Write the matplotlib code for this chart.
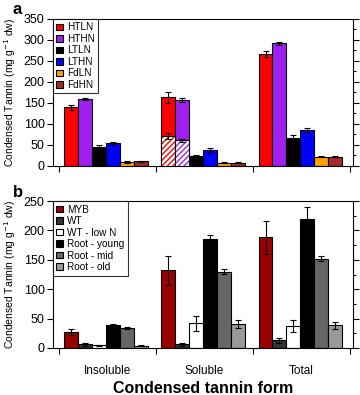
import numpy as np
import matplotlib.pyplot as plt
from matplotlib.ticker import MultipleLocator

# categories
forms = ["Insoluble", "Soluble", "Total"]

# panel a
a_names = ["HTLN", "HTHN", "LTLN", "LTHN", "FdLN", "FdHN"]
a_colors = ["#ff0000", "#a020f0", "#000000", "#0000ff", "#ffa500", "#a52a2a"]
a_vals = [
    [140, 163, 266],
    [159, 157, 292],
    [44, 23, 67],
    [54, 37, 86],
    [10, 8, 22],
    [11, 8, 22],
]
a_errs = [
    [6, 12, 7],
    [3, 5, 4],
    [5, 4, 7],
    [4, 6, 5],
    [2, 1, 1],
    [1, 1, 1],
]
# hatched part of soluble (HTLN, HTHN)
a_hatch_vals = [72, 61]
a_hatch_errs = [7, 3]

# panel b
b_names = ["MYB", "WT", "WT - low N", "Root - young", "Root - mid", "Root - old"]
b_colors = ["#990000", "#333333", "#ffffff", "#000000", "#666666", "#999999"]
b_vals = [
    [27, 132, 188],
    [6, 6, 13],
    [4.5, 42, 38],
    [38.5, 186, 220],
    [34, 130, 152],
    [4, 41, 39],
]
b_errs = [
    [5, 25, 28],
    [2, 2, 4],
    [1, 13, 10],
    [1.5, 7, 20],
    [2, 4, 4],
    [1, 7, 6],
]

plt.rcParams['font.family'] = ['Liberation Sans', 'DejaVu Sans']
plt.rcParams['hatch.linewidth'] = 1.0

fig = plt.figure(figsize=(3.6, 3.95), dpi=100)
ax_a = fig.add_axes([0.147, 0.580, 0.834, 0.372])
ax_b = fig.add_axes([0.147, 0.119, 0.834, 0.372])

width = 0.143
x = np.arange(len(forms))
offsets = (np.arange(6) - 2.5) * width + 0.485


def draw(ax, names, colors, vals, errs):
    for i in range(len(names)):
        ax.bar(x + offsets[i], vals[i], width, color=colors[i],
               edgecolor="black", linewidth=0.8, label=names[i], zorder=2)
        ax.errorbar(x + offsets[i], vals[i], yerr=errs[i], fmt="none",
                    ecolor="black", elinewidth=0.8, capsize=2, capthick=0.8, zorder=4)


def style(ax, top):
    ax.set_xlim(-0.062, 3.03)
    ax.set_ylim(0, top)
    ax.yaxis.set_major_locator(MultipleLocator(50))
    ax.yaxis.set_minor_locator(MultipleLocator(25))
    ax.set_xticks([0, 1, 2, 3])
    ax.set_xticklabels([])
    ax.tick_params(axis="x", which="major", direction="out", length=4, width=0.8)
    ax.tick_params(axis="y", which="both", direction="out", right=True,
                   labelsize=9, width=0.8)
    ax.tick_params(axis="y", which="minor", left=False, length=2)
    ax.tick_params(axis="y", which="major", length=4, pad=2)
    ax.set_ylabel("Condensed Tannin (mg g$^{-1}$ dw)", fontsize=7.5, labelpad=4)
    for s in ax.spines.values():
        s.set_linewidth(0.8)


draw(ax_a, a_names, a_colors, a_vals, a_errs)
# hatched soluble fraction
for j in range(2):
    xi = x[1] + offsets[j]
    ax_a.bar(xi, a_hatch_vals[j], width, color="white", edgecolor=a_colors[j],
             hatch="//////", linewidth=0, zorder=3)
    ax_a.bar(xi, a_hatch_vals[j], width, fill=False, edgecolor="black",
             linewidth=0.8, zorder=3)
    ax_a.errorbar(xi, a_hatch_vals[j], yerr=a_hatch_errs[j], fmt="none",
                  ecolor="black", elinewidth=0.8, capsize=2, capthick=0.8, zorder=4)
style(ax_a, 350)

draw(ax_b, b_names, b_colors, b_vals, b_errs)
style(ax_b, 250)
ax_b.set_xticks([0.5, 1.5, 2.5], minor=True)
ax_b.set_xticklabels(forms, minor=True, fontsize=8.5)
ax_b.tick_params(axis="x", which="minor", length=0, pad=12)
ax_b.set_xlabel("Condensed tannin form", fontsize=11.5, fontweight="bold", labelpad=3)

for ax in (ax_a, ax_b):
    leg = ax.legend(loc="upper left", fontsize=7.2, frameon=True, fancybox=False,
                    borderaxespad=0, handlelength=0.65, handleheight=0.65,
                    handletextpad=0.4, labelspacing=0.15, borderpad=0.35)
    leg.get_frame().set_edgecolor("black")
    leg.get_frame().set_linewidth(0.8)
    leg.set_zorder(5)

fig.text(0.035, 0.975, "a", fontsize=12, fontweight="bold", va="center")
fig.text(0.035, 0.513, "b", fontsize=12, fontweight="bold", va="center")

plt.savefig("out.png", dpi=100)
